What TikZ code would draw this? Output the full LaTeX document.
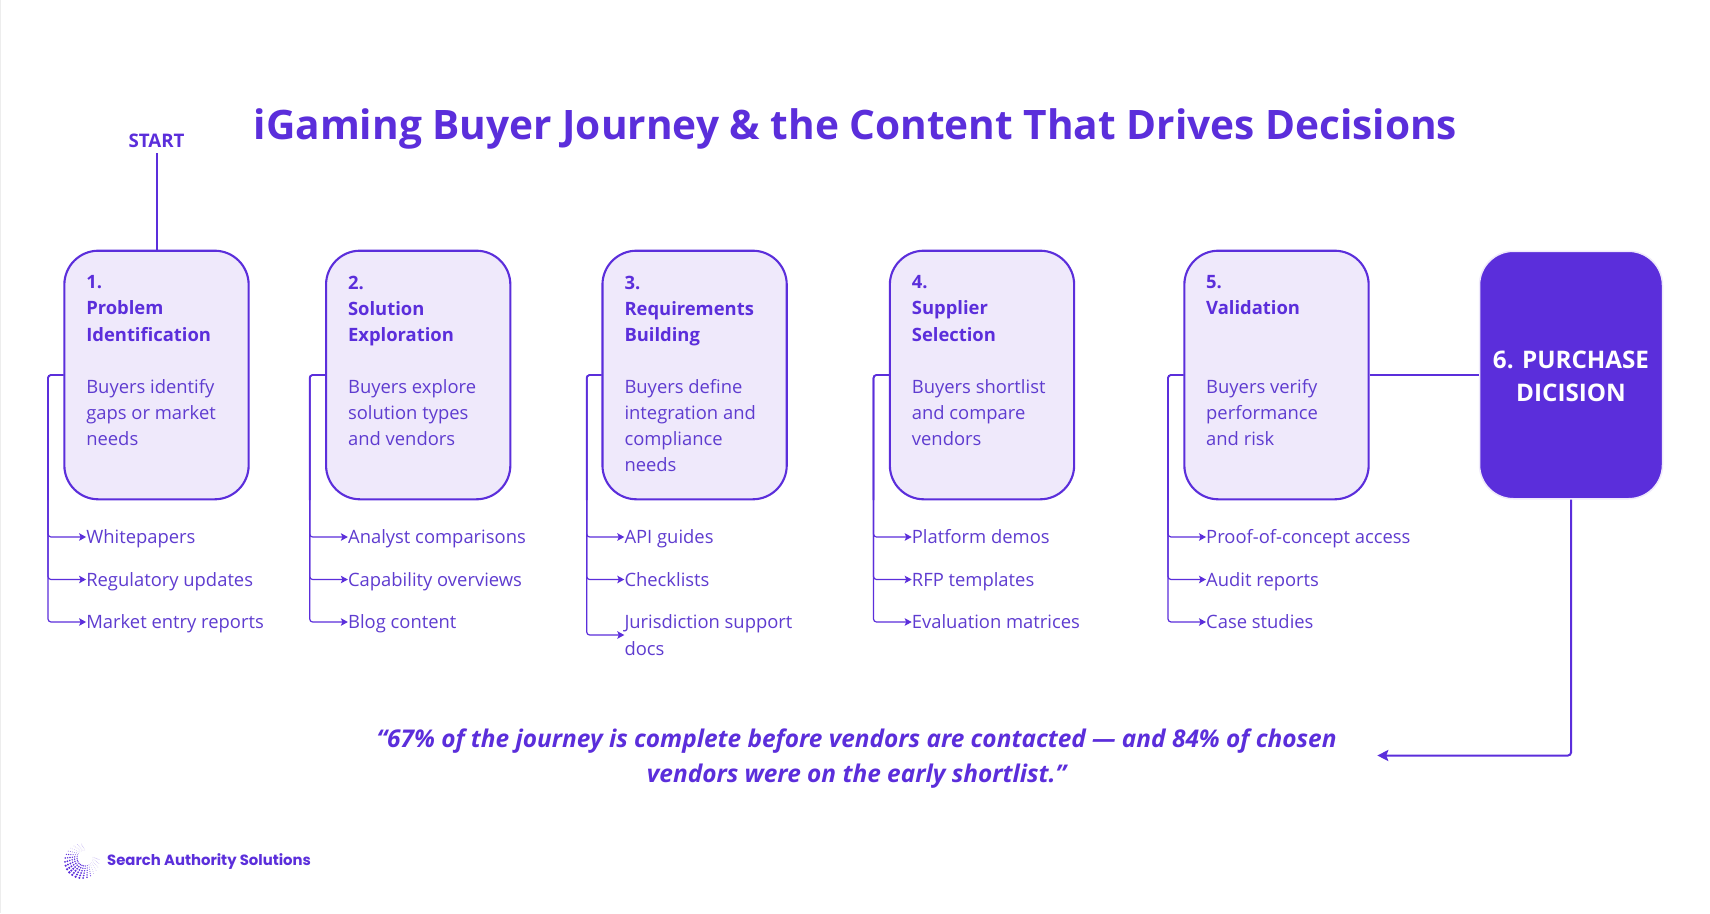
\documentclass[tikz,border=0pt]{standalone}
\usepackage{fontspec}
\setmainfont{Open Sans}
\newfontfamily\logofont{Poppins}
\usetikzlibrary{arrows.meta,calc}
\definecolor{brand}{HTML}{5B2EDB}
\definecolor{paleb}{HTML}{EFE9FB}
\definecolor{bodyc}{HTML}{5F3CD0}
\tikzset{
  x=1pt,y=-1pt,
  stagebox/.style={draw=brand,fill=paleb,line width=2.1pt,rounded corners=34pt,minimum width=184.3pt,minimum height=248.6pt,inner sep=0pt},
  finalbox/.style={draw=paleb,fill=brand,line width=1.5pt,rounded corners=34pt,minimum width=183pt,minimum height=247.5pt,align=center,text=white,inner sep=0pt,font=\fontsize{24.2}{32.8}\selectfont\bfseries},
  stagetext/.style={anchor=north west,inner sep=0pt,align=left,text=bodyc,font=\fontsize{18.4}{26.1}\selectfont},
  itemtext/.style={anchor=west,inner sep=0pt,text height=15.2pt,text depth=2pt,text=bodyc,font=\fontsize{18.4}{26.1}\selectfont},
  itemtwo/.style={anchor=west,inner sep=0pt,align=left,text=bodyc,font=\fontsize{18.4}{26.2}\selectfont},
  branchline/.style={draw=brand,line width=1.2pt,rounded corners=3pt,-{Stealth[length=7pt,width=7.5pt,inset=1.5pt]}},
  mainline/.style={draw=brand,line width=2pt},
}
\newcommand{\hd}[1]{{\bfseries\color{brand}#1}}
\begin{document}
\begin{tikzpicture}
\useasboundingbox (0,0) rectangle (1710,913);
\fill[white] (0,0) rectangle (1710,913);
\fill[black!7] (0,0) rectangle (1.2,913);

\node[inner sep=0pt,text=brand,font=\fontsize{40.6}{50}\selectfont\bfseries] (title) at (855.5,128.5) {iGaming Buyer Journey \& the Content That Drives Decisions};
\node[inner sep=0pt,text=brand,font=\fontsize{18.7}{22}\selectfont\bfseries] (start) at (156.5,141) {START};

\node[stagebox] (b1) at (156.5,375) {};
\node[stagebox] (b2) at (418.2,375) {};
\node[stagebox] (b3) at (694.6,375) {};
\node[stagebox] (b4) at (982,375) {};
\node[stagebox] (b5) at (1276.5,375) {};
\node[finalbox] (b6) at (1571,375) {\rule{0pt}{20pt}6. PURCHASE\\DICISION};

\node[stagetext] (t1) at (86.1,275.5) {\hd{1.}\\\hd{Problem}\\\hd{Identification}\\[26.1pt]Buyers identify\\gaps or market\\needs};
\node[stagetext] (t2) at (347.9,275.5) {\hd{2.}\\\hd{Solution}\\\hd{Exploration}\\[26.1pt]Buyers explore\\solution types\\and vendors};
\node[stagetext] (t3) at (624.3,275.5) {\hd{3.}\\\hd{Requirements}\\\hd{Building}\\[26.1pt]Buyers define\\integration and\\compliance\\needs};
\node[stagetext] (t4) at (911.7,275.5) {\hd{4.}\\\hd{Supplier}\\\hd{Selection}\\[26.1pt]Buyers shortlist\\and compare\\vendors};
\node[stagetext] (t5) at (1206,275.5) {\hd{5.}\\\hd{Validation}\\[52.2pt]Buyers verify\\performance\\and risk};

\node[itemtext] (i11) at (86.1,537) {Whitepapers};
\node[itemtext] (i12) at (86.1,579.5) {Regulatory updates};
\node[itemtext] (i13) at (86.1,622) {Market entry reports};
\node[itemtext] (i21) at (347.9,537) {Analyst comparisons};
\node[itemtext] (i22) at (347.9,579.5) {Capability overviews};
\node[itemtext] (i23) at (347.9,622) {Blog content};
\node[itemtext] (i31) at (624.3,537) {API guides};
\node[itemtext] (i32) at (624.3,579.5) {Checklists};
\node[itemtwo] (i33) at (624.3,635) {Jurisdiction support\\docs};
\node[itemtext] (i41) at (911.7,537) {Platform demos};
\node[itemtext] (i42) at (911.7,579.5) {RFP templates};
\node[itemtext] (i43) at (911.7,622) {Evaluation matrices};
\node[itemtext] (i51) at (1206,537) {Proof-of-concept access};
\node[itemtext] (i52) at (1206,579.5) {Audit reports};
\node[itemtext] (i53) at (1206,622) {Case studies};

\foreach \b/\tx in {1/48,2/309.7,3/586.7,4/873.5,5/1168}{
  \draw[branchline,line width=1.7pt,-] (b\b.west) -- (\tx,375) -- (\tx,500);
  \foreach \k in {1,2,3}{
    \draw[branchline] (b\b.west) -- (\tx,375) -- (\tx,420 |- i\b\k.west) -- (i\b\k.west);
  }
}

\draw[mainline] ($(start.south)+(0,5)$) -- (b1.north);
\draw[mainline] (b5.east) -- (b6.west);
\coordinate (qend) at (1377.3,755.5);
\draw[mainline,rounded corners=3pt,-{Stealth[length=11pt,width=11pt,inset=2pt]}] (b6.south) |- (qend);

\node[inner sep=0pt,align=center,text=brand,font=\fontsize{24.4}{35}\selectfont\bfseries\itshape] (quote) at (856.6,758.4) {“67\% of the journey is complete before vendors are contacted — and 84\% of chosen\\vendors were on the early shortlist.”};

\node[anchor=west,inner sep=0pt,text=brand,font=\logofont\fontsize{14.85}{18}\selectfont\bfseries] (logo) at (107,862) {Search Authority Solutions};

% logo swirl
\foreach \r in {8,9.8,11.6,13.4,15.2,17}{
  \foreach \a in {92,105,...,372}{
    \pgfmathsetmacro{\w}{max(0,cos(\a-225))}
    \pgfmathsetmacro{\rs}{\r/17}
    \pgfmathsetmacro{\rad}{0.36+0.95*\rs*\w}
    \pgfmathsetmacro{\op}{min(1,(0.38+1.3*\w)*(0.55+0.7*\rs))}
    \pgfmathsetmacro{\sh}{(17-\r)/17*8}
    \fill[brand,opacity=\op] ($(82,861)+(\a:\r pt)+(45:\sh pt)$) circle[radius=\rad pt];
  }
}
\end{tikzpicture}
\end{document}
